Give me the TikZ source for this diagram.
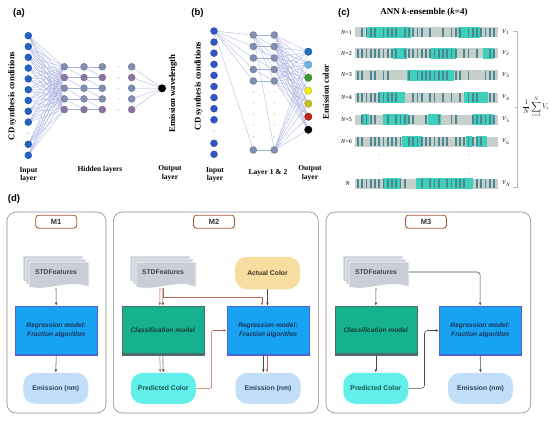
\documentclass[tikz,border=0pt]{standalone}
\usepackage{fontspec}
\setmainfont{Liberation Serif}
\setsansfont{Liberation Sans}
\usetikzlibrary{arrows.meta,backgrounds}
\pgfdeclarelayer{bottom}
\pgfsetlayers{bottom,background,main}
\definecolor{ablue}{HTML}{2164C6}
\definecolor{bblue}{HTML}{3454C4}
\definecolor{hgray}{HTML}{8190B2}
\definecolor{hpurp}{HTML}{8E72A6}
\definecolor{netline}{HTML}{A3ADDC}
\definecolor{dotgray}{HTML}{909090}
\definecolor{o1}{HTML}{1D6FC2}
\definecolor{o2}{HTML}{6CB4E4}
\definecolor{o3}{HTML}{3A9A2E}
\definecolor{o4}{HTML}{F2EE10}
\definecolor{o5}{HTML}{C9C020}
\definecolor{o6}{HTML}{C22412}
\definecolor{bargray}{HTML}{C6CFCA}
\definecolor{barteal}{HTML}{3FD0BC}
\definecolor{barstripe}{HTML}{4B8792}
\definecolor{panelgray}{HTML}{8C8C8C}
\definecolor{titlered}{HTML}{A85842}
\definecolor{darktext}{HTML}{333333}
\definecolor{regblue}{HTML}{18A2F2}
\definecolor{regedge}{HTML}{4C62D6}
\definecolor{regtext}{HTML}{1A3456}
\definecolor{clsgreen}{HTML}{16B290}
\definecolor{clsedge}{HTML}{4C7068}
\definecolor{clstext}{HTML}{163A30}
\definecolor{emiblue}{HTML}{C2DEF8}
\definecolor{emitext}{HTML}{2A4264}
\definecolor{predcyan}{HTML}{62EEEA}
\definecolor{predtext}{HTML}{145656}
\definecolor{actyellow}{HTML}{F8DDA0}
\definecolor{acttext}{HTML}{3A3424}
\definecolor{stdgray}{HTML}{C9CED7}
\definecolor{stdtxt}{HTML}{3C4252}
\definecolor{arrgray}{HTML}{4A4A4A}
\definecolor{arrred}{HTML}{B8634A}
\newcommand\stdstack[2]{%
  \foreach \o in {6,3,0}{%
    \path[fill=stdgray, draw=white, line width=0.6pt]
      ({#1-27-\o},{#2-10-\o}) -- ++(60,0) -- ++(0,25)
      .. controls ++(-20,-8) and ++(20,5) .. ++(-60,0) -- cycle;
  }%
}
\begin{document}
\begin{tikzpicture}[x=1pt,y=-1pt,
  anode/.style={circle, fill=ablue, draw=ablue!75!black, line width=0.3pt, minimum size=7pt, inner sep=0},
  bnode/.style={circle, fill=bblue, draw=bblue!75!black, line width=0.3pt, minimum size=7pt, inner sep=0},
  hnode/.style={circle, fill=hgray, draw=hgray!75!black, line width=0.3pt, minimum size=7pt, inner sep=0},
  onode/.style={circle, line width=0.3pt, minimum size=7.5pt, inner sep=0},
  netln/.style={draw=netline, line width=0.3pt},
  lbl/.style={font=\bfseries\fontsize{7.5}{8.5}\selectfont, align=center, inner sep=0},
  rotlbl/.style={font=\bfseries\fontsize{8.7}{10}\selectfont, rotate=90, inner sep=0},
  plabel/.style={font=\sffamily\bfseries\fontsize{9.5}{11}\selectfont, inner sep=0},
  panel/.style={draw=panelgray, line width=0.6pt, rounded corners=9pt, fill=white},
  mtitle/.style={draw=titlered, line width=0.9pt, rounded corners=3pt, fill=white, minimum width=41pt, minimum height=13pt, font=\sffamily\bfseries\fontsize{7.5}{8}\selectfont, text=darktext, inner sep=0},
  regbox/.style={fill=regblue, draw=regedge, line width=0.6pt, minimum width=82pt, minimum height=49pt, align=center, font=\sffamily\bfseries\itshape\fontsize{6.6}{8.5}\selectfont, text=regtext, inner sep=0,
     path picture={\draw[regedge, line width=3pt] (path picture bounding box.south west) -- (path picture bounding box.south east);}},
  clsbox/.style={fill=clsgreen, draw=clsedge, line width=0.5pt, minimum width=82pt, minimum height=49pt, align=center, font=\sffamily\bfseries\itshape\fontsize{6.6}{8.5}\selectfont, text=clstext, inner sep=0,
     path picture={\draw[clsedge, line width=4pt] (path picture bounding box.south west) -- (path picture bounding box.south east);}},
  emibox/.style={fill=emiblue, rounded corners=12pt, minimum width=65pt, minimum height=31pt, font=\sffamily\bfseries\fontsize{6.8}{8}\selectfont, text=emitext, inner sep=0},
  predbox/.style={emibox, fill=predcyan, text=predtext},
  actbox/.style={emibox, fill=actyellow, text=acttext, minimum height=32.5pt},
  stdnode/.style={minimum width=66pt, minimum height=32pt, inner sep=0, font=\sffamily\bfseries\fontsize{6.8}{8}\selectfont, text=stdtxt},
  darr/.style={-{Latex[length=3.2pt,width=2.6pt]}, draw=arrgray, line width=0.55pt},
  rarr/.style={-{Latex[length=3.2pt,width=2.6pt]}, draw=arrred, line width=0.55pt},
]
\useasboundingbox (0,0) rectangle (550,423);
\begin{pgfonlayer}{bottom}
  \fill[white] (0,0) rectangle (550,423);
\end{pgfonlayer}

% ---------------- panel (a)
\node[plabel] (la) at (19,12.7) {(a)};
\foreach \i/\yy in {1/35.7,2/46.5,3/57.3,4/68.1,5/78.9,6/89.7,7/100.5,8/111.3,9/122.1,10/144.3,11/155.3}
  \node[anode] (ai\i) at (28.3,\yy) {};
\foreach \c/\xx in {1/64.3,2/84,3/102.3,4/131.7}
  \foreach \r/\yy/\cc in {1/66.8/hgray,2/77.5/hpurp,3/88.2/hgray,4/98.9/hgray,5/109.6/hpurp}
    \node[hnode, fill=\cc] (ah\c\r) at (\xx,\yy) {};
\node[onode, fill=black, minimum size=8pt] (aout) at (162,88.3) {};
\begin{scope}[on background layer]
  \foreach \i in {1,...,11} \foreach \r in {1,...,5} \draw[netln] (ai\i) -- (ah1\r);
  \foreach \c/\d in {1/2,2/3}{
    \foreach \r in {1,...,5} \draw[netln] (ah\c\r) -- (ah\d\r);
    \foreach \r/\s in {1/2,2/3,3/4,4/5} \draw[netln] (ah\c\r) -- (ah\d\s);
  }
  \foreach \r in {1,...,5} \draw[netln] (ah4\r) -- (aout);
\end{scope}
\fill[dotgray] (28.3,133.3) circle (0.6);
\foreach \yy in {71.7,81.7,92.7,104,115} \fill[dotgray] (40,\yy) circle (0.5);
\foreach \yy in {66.8,77.5,88.2,98.9,109.6} \fill[dotgray] (118.3,\yy) circle (0.5);
\node[rotlbl] (acd) at (12.3,96) {CD synthesis conditions};
\node[rotlbl] (aem) at (173,93.5) {Emission wavelength};
\node[lbl] (ail) at (28.5,175) {Input\\layer};
\node[lbl] (ahl) at (100,169.5) {Hidden layers};
\node[lbl] (aol) at (170,173.5) {Output\\layer};

% ---------------- panel (b)
\node[plabel] (lb) at (197.5,13) {(b)};
\foreach \i/\yy in {1/31,2/42.1,3/53.2,4/64.3,5/75.4,6/86.5,7/97.6,8/108.7,9/119.8,10/143.3,11/154.3}
  \node[bnode] (bi\i) at (214,\yy) {};
\foreach \r/\yy in {1/35,2/46.5,3/58,4/69.5,5/81,6/150}{
  \node[hnode] (bl\r) at (253.3,\yy) {};
  \node[hnode] (bm\r) at (274.3,\yy) {};
}
\foreach \r/\yy/\cc in {1/51.7/o1,2/64.7/o2,3/77.7/o3,4/90.7/o4,5/103.7/o5,6/116.7/o6,7/129.7/black}
  \node[onode, fill=\cc, draw=\cc!75!black] (bo\r) at (308.3,\yy) {};
\begin{scope}[on background layer]
  \foreach \r in {1,...,6} \draw[netln] (bi1) -- (bl\r);
  \foreach \r in {1,...,6} \draw[netln] (bl1) -- (bm\r);
  \foreach \r in {2,...,6} \draw[netln] (bl\r) -- (bm\r);
  \foreach \r/\s in {2/3,3/4,4/5} \draw[netln] (bl\r) -- (bm\s);
  \foreach \r in {1,...,6} \foreach \s in {1,...,7} \draw[netln] (bm\r) -- (bo\s);
\end{scope}
\fill[dotgray] (214,131) circle (0.6);
\foreach \yy in {91.7,103,114,125,136.7}{\fill[dotgray] (253.3,\yy) circle (0.5); \fill[dotgray] (274.3,\yy) circle (0.5);}
\node[rotlbl] (bcd) at (198.5,86) {CD synthesis conditions};
\node[rotlbl] (bem) at (326,92) {Emission color};
\node[lbl] (bil) at (215,175) {Input\\layer};
\node[lbl] (bll) at (268,173) {Layer 1 \& 2};
\node[lbl] (bol) at (310,173.5) {Output\\layer};

% ---------------- panel (c)
\node[plabel] (lc) at (344,12.7) {(c)};
\node[font=\bfseries\fontsize{9}{10}\selectfont, inner sep=0] (ctitle) at (424,12.7) {ANN \textit{k}-ensemble (\textit{k}=4)};
\pgfmathsetseed{4711}
\foreach \yy in {32.3,53.3,75,97.5,119.5,141.5,183.5}{
  \fill[bargray] (355,\yy-5) rectangle (498,\yy+5);
  \foreach \k in {1,...,4}{
    \pgfmathsetmacro\pw{6+rnd*22}
    \pgfmathsetmacro\px{355+rnd*(143-\pw)}
    \fill[barteal] (\px,\yy-5.5) rectangle (\px+\pw,\yy+5.5);
  }
  \foreach \i in {0,...,32}{
    \pgfmathsetmacro\q{rnd}
    \ifdim \q pt > 0.28pt
      \fill[barstripe] (357+\i*4.25,\yy-4.5) rectangle (358.8+\i*4.25,\yy+4.5);
    \fi
  }
}
\foreach \n/\yy in {1/32.3,2/53.3,3/75,4/97.5,5/119.5,6/141.5}{
  \node[anchor=east, font=\fontsize{6}{7}\selectfont, inner sep=0] (cn\n) at (352,\yy) {\textit{N}=\n};
  \node[anchor=west, font=\fontsize{6}{7}\selectfont, inner sep=0] (cv\n) at (502,\yy) {\textit{V}\textsubscript{\n}};
}
\node[anchor=east, font=\fontsize{6}{7}\selectfont, inner sep=0] (cnN) at (350,183.5) {\textit{N}};
\node[anchor=west, font=\fontsize{6}{7}\selectfont, inner sep=0] (cvN) at (502,183.5) {\textit{V}\textsubscript{\textit{N}}};
\foreach \yy in {155,159.5,164,168.5,173}{\fill[dotgray] (379,\yy) circle (0.45); \fill[dotgray] (469,\yy) circle (0.45);}
\draw[gray!55, line width=0.5pt] (513,31) -- (517,31) -- (517,187) -- (513,187);
\draw[gray!55, line width=0.5pt] (517,107) -- (514.5,107);
\node[inner sep=0] (cform) at (535.5,107) {\scalebox{0.68}{$\displaystyle\frac{1}{N}\sum_{i=1}^{N}V_i$}};

% ---------------- panel (d)
\node[plabel] (ld) at (14,199) {(d)};
\draw[panel] (7,212) rectangle (106,413);
\draw[panel] (113.3,212) rectangle (318.3,413);
\draw[panel] (326,212) rectangle (530.7,413);

% M1
\node[mtitle] (t1) at (56.2,221.7) {M1};
\stdstack{56}{272}
\node[stdnode] (s1) at (56,272) {STDFeatures};
\node[regbox] (r1) at (56.2,330.5) {Regression model:\\Fraction algorithm};
\node[emibox] (e1) at (55.8,388.3) {Emission (nm)};
\draw[darr] (s1.south) -- (r1.north);
\draw[darr] (r1.south) -- (e1.north);

% M2
\node[mtitle] (t2) at (214,221.7) {M2};
\stdstack{163}{272}
\node[stdnode] (s2) at (163,272) {STDFeatures};
\node[actbox] (a2) at (267.5,273) {Actual Color};
\node[clsbox] (c2) at (162.8,330.5) {Classification model};
\node[regbox] (r2) at (268,330.5) {Regression model:\\Fraction algorithm};
\node[predbox] (p2) at (163.3,388.3) {Predicted Color};
\node[emibox] (e2) at (268,388.3) {Emission (nm)};
\draw[rarr] ([xshift=-3pt]s2.south) -- ([xshift=-3pt]c2.north);
\draw[darr] (s2.south) -- (c2.north);
\draw[rarr] (s2.south) -- ++(0,9) -| ([xshift=-6pt]r2.north);
\draw[darr] (a2.south) -- (a2.south |- r2.north);
\draw[rarr] ([xshift=-3pt]c2.south) -- ([xshift=-3pt]p2.north);
\draw[darr] (c2.south) -- (p2.north);
\draw[darr] ([xshift=-4.7pt]r2.south) -- ([xshift=-4.7pt]e2.north);
\draw[rarr] ([xshift=-1pt]r2.south) -- ([xshift=-1pt]e2.north);
\draw[rarr, rounded corners=2pt] (p2.east) -- ++(15.7,0) |- (r2.west);

% M3
\node[mtitle] (t3) at (426,221.7) {M3};
\stdstack{376}{272}
\node[stdnode] (s3) at (376,272) {STDFeatures};
\node[clsbox] (c3) at (375.8,330.5) {Classification model};
\node[regbox] (r3) at (480.2,330.5) {Regression model:\\Fraction algorithm};
\node[predbox] (p3) at (375.8,388.3) {Predicted Color};
\node[emibox] (e3) at (480.5,388.3) {Emission (nm)};
\draw[darr] (s3.south) -- (c3.north);
\draw[darr, rounded corners=3pt] (s3.east) -| (r3.north);
\draw[darr] (c3.south) -- (p3.north);
\draw[darr, rounded corners=3pt] (p3.east) -- ++(16,0) |- (r3.west);
\draw[darr] (r3.south) -- (e3.north);
\end{tikzpicture}
\end{document}
